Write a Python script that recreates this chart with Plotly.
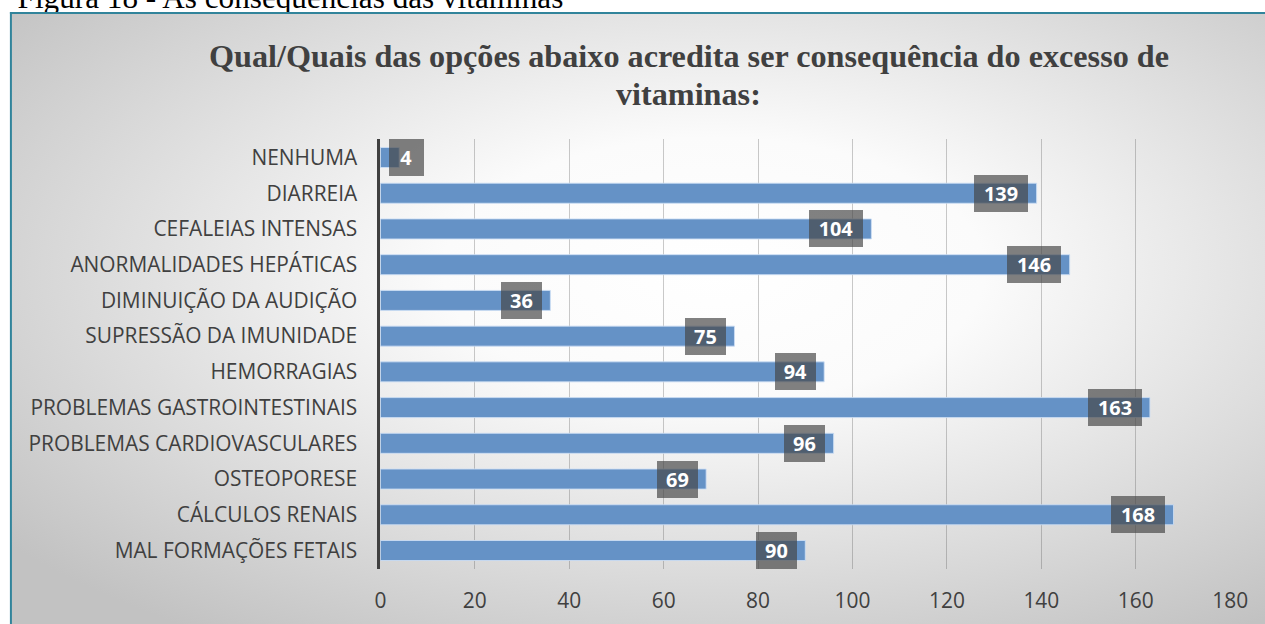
import base64
import plotly.graph_objects as go

# ---- data (bottom to top, as in the source chart) ----
categories = [
    "MAL FORMAÇÕES FETAIS",
    "CÁLCULOS RENAIS",
    "OSTEOPORESE",
    "PROBLEMAS CARDIOVASCULARES",
    "PROBLEMAS GASTROINTESTINAIS",
    "HEMORRAGIAS",
    "SUPRESSÃO DA IMUNIDADE",
    "DIMINUIÇÃO DA AUDIÇÃO",
    "ANORMALIDADES HEPÁTICAS",
    "CEFALEIAS INTENSAS",
    "DIARREIA",
    "NENHUMA",
]
values = [90, 168, 69, 96, 163, 94, 75, 36, 146, 104, 139, 4]
x_ticks = [0, 20, 40, 60, 80, 100, 120, 140, 160, 180]

title_lines = ["Qual/Quais das opções abaixo acredita ser consequência do excesso de", "vitaminas:"]
caption_text = "Figura 18 - As consequências das vitaminas"

# ---- geometry ----
W, H = 1284, 624
frame_left = 5
px_left, px_right = 381.5, 1247.5
px_top, px_bottom = 139, 569
x_max = 180
px_per_unit = (px_right - px_left) / x_max
cap_strip = 14  # px height of the strip above the chart frame

fig = go.Figure()
fig.add_trace(go.Bar(
    y=categories, x=values, orientation="h",
    marker=dict(color="#6592c6", line=dict(color="rgba(205,222,244,0.85)", width=1)),
    hoverinfo="x+y",
))

# caption (clipped at the top edge like in the source) as a text trace in its own strip
fig.add_trace(go.Scatter(
    x=[-8], y=[cap_strip - 0.5], mode="text", text=[caption_text],
    textposition="middle right", cliponaxis=True, hoverinfo="skip",
    textfont=dict(family="Liberation Serif", size=31.2, color="#000000"),
    xaxis="x2", yaxis="y2",
))

# gradient background via svg image
gw, gh = W - frame_left, H - 13
svg = (
    f'<svg xmlns="http://www.w3.org/2000/svg" width="{gw}" height="{gh}" viewBox="0 0 {gw} {gh}" preserveAspectRatio="none">'
    '<defs><radialGradient id="g" cx="0.56" cy="0.42" r="0.72">'
    '<stop offset="0" stop-color="#ffffff"/>'
    '<stop offset="0.3" stop-color="#fbfbfb"/>'
    '<stop offset="1" stop-color="#c2c2c2"/>'
    '</radialGradient></defs>'
    f'<rect x="0" y="0" width="{gw}" height="{gh}" fill="url(#g)"/></svg>'
)
src = "data:image/svg+xml;base64," + base64.b64encode(svg.encode()).decode()

annotations = []
# data labels
for cat, v in zip(categories, values):
    txt = str(v)
    bw = {1: 34.7, 2: 40.8, 3: 54}.get(len(txt), 54)
    if v * px_per_unit < bw + 16:
        ann = dict(x=0, xanchor="left", xshift=8.2)
    else:
        ann = dict(x=v, xanchor="right", xshift=-8.2)
    ann.update(
        y=cat, yanchor="middle", xref="x", yref="y", text=f"<b>{txt}</b>",
        showarrow=False, width=bw, height=37, align="center", valign="middle",
        bgcolor="rgba(70,70,70,0.68)", borderpad=0, borderwidth=0,
        font=dict(family="Open Sans", size=19.9, color="white"),
    )
    annotations.append(ann)

for line, cy in zip(title_lines, [56, 94]):
    annotations.append(dict(
        x=695.5 / W, y=1 - cy / H, xref="paper", yref="paper", xanchor="center", yanchor="middle",
        text=f"<b>{line}</b>", showarrow=False,
        font=dict(family="Liberation Serif", size=32.2, color="#404040"),
    ))

border = "#31849b"
fig.update_layout(
    width=W, height=H, autosize=False,
    margin=dict(l=0, r=0, t=0, b=0),
    paper_bgcolor="white", plot_bgcolor="rgba(0,0,0,0)",
    showlegend=False, bargap=0.44,
    annotations=annotations,
    images=[dict(
        source=src, xref="paper", yref="paper",
        x=frame_left / W, y=1 - 13 / H, sizex=gw / W, sizey=gh / H,
        xanchor="left", yanchor="top", sizing="stretch", layer="below",
    )],
    shapes=[
        dict(type="line", xref="paper", yref="paper", x0=(frame_left - 1) / W, x1=1, y0=1 - 13 / H, y1=1 - 13 / H,
             line=dict(color=border, width=2), layer="above"),
        dict(type="line", xref="paper", yref="paper", x0=frame_left / W, x1=frame_left / W, y0=0, y1=1 - 12 / H,
             line=dict(color=border, width=2), layer="above"),
    ],
    xaxis=dict(
        domain=[px_left / W, px_right / W], range=[0, x_max],
        tickvals=x_ticks, ticktext=[str(t) for t in x_ticks],
        showgrid=True, gridcolor="rgba(80,80,80,0.3)", gridwidth=1,
        zeroline=False, showline=False, ticks="",
        tickfont=dict(family="Open Sans", size=20.9, color="#404040"),
        ticklabelstandoff=17, fixedrange=True,
    ),
    yaxis=dict(
        domain=[1 - px_bottom / H, 1 - px_top / H],
        type="category", categoryorder="array", categoryarray=categories,
        showgrid=False, zeroline=False,
        showline=True, linecolor="#404040", linewidth=3,
        ticks="", ticklabelstandoff=16,
        tickfont=dict(family="Open Sans", size=20.9, color="#404040"),
        fixedrange=True,
    ),
    xaxis2=dict(domain=[0, 1], range=[-20, W], visible=False, fixedrange=True, anchor="y2"),
    yaxis2=dict(domain=[1 - cap_strip / H, 1], range=[0, cap_strip], visible=False,
                fixedrange=True, anchor="x2"),
)

post = (
    "document.documentElement.style.overflow='hidden';"
    "document.body.style.overflow='hidden';"
    "document.body.style.margin='0';"
)

fig.write_html(
    "out.html",
    config={"displayModeBar": False, "responsive": False},
    post_script=post,
)
